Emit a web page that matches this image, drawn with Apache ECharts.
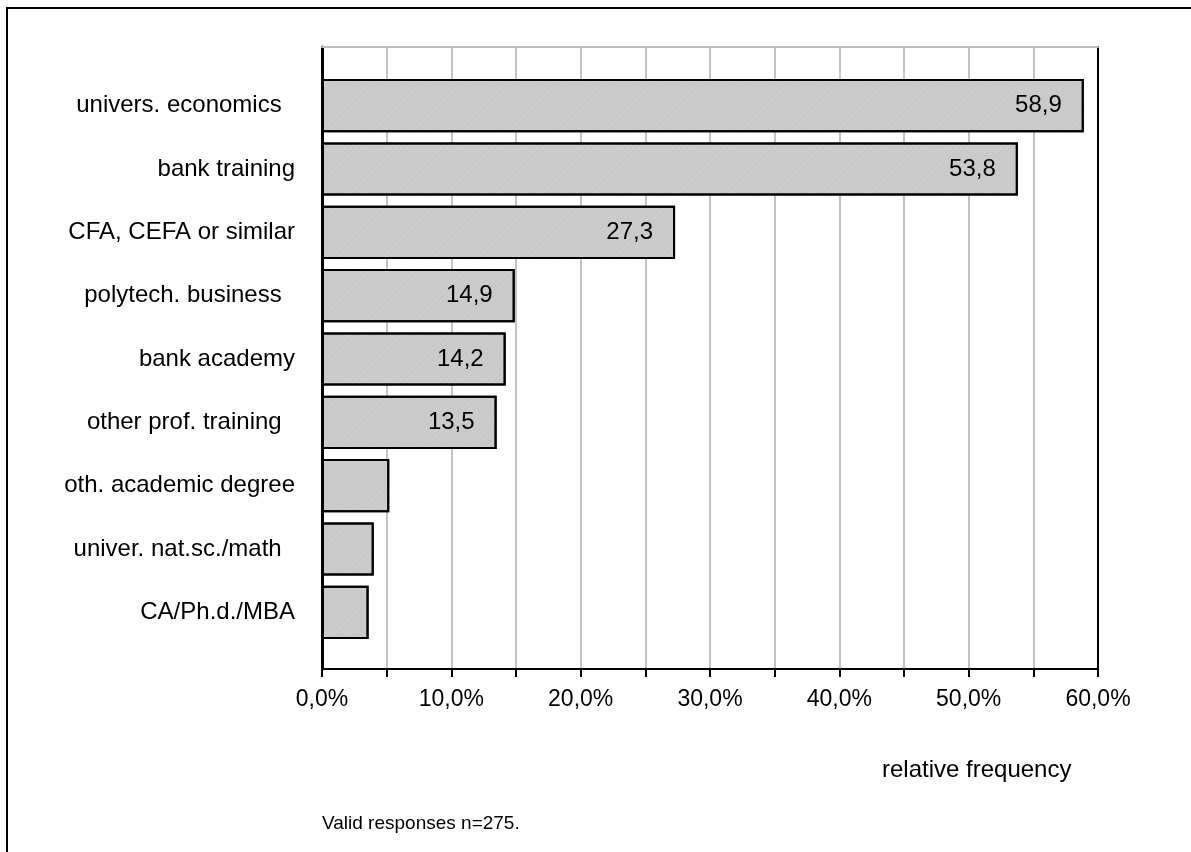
<!DOCTYPE html>
<html>
<head>
<meta charset="utf-8">
<title>relative frequency</title>
<script src="https://cdn.jsdelivr.net/npm/echarts@6/dist/echarts.min.js"></script>
<style>
  html, body { margin: 0; padding: 0; background: #fff; }
  #chart { width: 1191px; height: 852px; }
</style>
</head>
<body>
<div id="chart"></div>
<script>
  // categories top to bottom, as in the picture
  var categories = [
    'univers. economics  ',
    'bank training',
    'CFA, CEFA or similar',
    'polytech. business  ',
    'bank academy',
    'other prof. training  ',
    'oth. academic degree',
    'univer. nat.sc./math  ',
    'CA/Ph.d./MBA'
  ];
  var values = [58.9, 53.8, 27.3, 14.9, 14.2, 13.5, 5.2, 4.0, 3.6];
  // only these get a value label in the original
  var labelled = [true, true, true, true, true, true, false, false, false];
  var xTicks = [0, 10, 20, 30, 40, 50, 60];

  var font = '"Liberation Sans", Arial, sans-serif';
  var myChart = echarts.init(document.getElementById('chart'));

  myChart.setOption({
    animation: false,
    textStyle: { fontFamily: font },
    // grid 0: frame, gridlines and x axis; grid 1: the bars
    grid: [
      { left: 322, right: 93, top: 47, bottom: 183 },
      { left: 322, right: 93, top: 74, bottom: 208 }
    ],
    xAxis: [{
      gridIndex: 0,
      type: 'value',
      min: 0,
      max: 60,
      interval: 5,
      axisLine: { show: true, onZero: false, lineStyle: { color: '#000', width: 2 } },
      axisTick: { show: true, length: 8, lineStyle: { color: '#000', width: 2 } },
      axisLabel: {
        margin: 19,
        color: '#000',
        fontSize: 23,
        fontFamily: font,
        formatter: function (v) {
          if (xTicks.indexOf(v) < 0) return '';
          return v.toFixed(1).replace('.', ',') + '%';
        }
      },
      splitLine: { show: true, lineStyle: { color: '#c4c4c4', width: 2 } }
    }, {
      // top edge of the plot
      gridIndex: 0,
      type: 'value',
      position: 'top',
      min: 0,
      max: 60,
      axisLine: { show: true, onZero: false, lineStyle: { color: '#bdbdbd', width: 2 } },
      axisTick: { show: false },
      axisLabel: { show: false },
      splitLine: { show: false }
    }, {
      gridIndex: 1,
      type: 'value',
      min: 0,
      max: 60,
      show: false
    }],
    yAxis: [{
      gridIndex: 0,
      type: 'value',
      min: 0,
      max: 1,
      axisLine: { show: true, onZero: false, lineStyle: { color: '#000', width: 3 } },
      axisTick: { show: false },
      axisLabel: { show: false },
      splitLine: { show: false }
    }, {
      // right edge of the plot
      gridIndex: 0,
      type: 'value',
      position: 'right',
      min: 0,
      max: 1,
      axisLine: { show: true, onZero: false, lineStyle: { color: '#000', width: 2 } },
      axisTick: { show: false },
      axisLabel: { show: false },
      splitLine: { show: false }
    }, {
      gridIndex: 1,
      type: 'category',
      inverse: true,
      data: categories,
      axisLine: { show: false },
      axisTick: { show: false },
      axisLabel: {
        margin: 27,
        padding: [6, 0, 0, 0],
        color: '#000',
        fontSize: 24,
        fontFamily: font
      }
    }],
    series: [{
      name: 'relative frequency',
      type: 'bar',
      xAxisIndex: 2,
      yAxisIndex: 2,
      barWidth: '84%',
      data: values.map(function (v, i) {
        return {
          value: v,
          label: { show: labelled[i] }
        };
      }),
      itemStyle: {
        color: '#c9c9c9',
        borderColor: '#000',
        borderWidth: 2,
        decal: {
          symbol: 'rect',
          symbolSize: 1,
          dashArrayX: [1, 0],
          dashArrayY: [1, 3],
          rotation: -Math.PI / 4,
          color: 'rgba(255,255,255,0.1)'
        }
      },
      label: {
        position: 'insideRight',
        distance: 22,
        color: '#000',
        fontSize: 24,
        fontFamily: font,
        formatter: function (p) {
          return p.value.toFixed(1).replace('.', ',');
        }
      }
    }],
    graphic: [{
      type: 'polyline',
      shape: { points: [[7, 852], [7, 8], [1191, 8]] },
      style: { stroke: '#000', lineWidth: 2, fill: null }
    }, {
      type: 'text',
      left: 882,
      top: 758,
      style: { text: 'relative frequency', font: '24px ' + font, fill: '#000' }
    }, {
      type: 'text',
      left: 322,
      top: 814,
      style: { text: 'Valid responses n=275.', font: '19px ' + font, fill: '#000' }
    }]
  });
</script>
</body>
</html>
